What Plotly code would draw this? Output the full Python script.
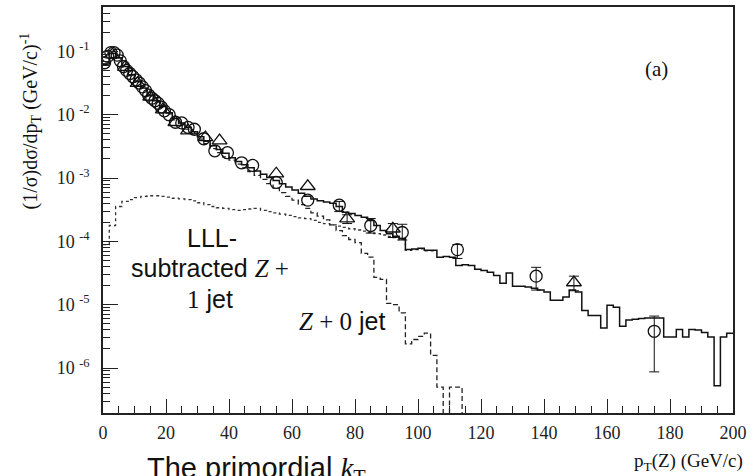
import plotly.graph_objects as go

# ---------------- data ----------------
bin_width = 2.0  # GeV/c, histogram bin width

# total prediction (solid), per 2 GeV bin from 0 to 200
total_hist = [
    6.31e-2, 9.33e-2, 7.94e-2, 5.75e-2, 4.27e-2, 3.39e-2, 2.63e-2, 2.04e-2, 1.66e-2, 1.35e-2,
    1.07e-2, 8.71e-3, 7.41e-3, 6.31e-3, 5.37e-3, 4.47e-3, 3.80e-3, 3.24e-3, 2.82e-3, 2.45e-3,
    2.09e-3, 1.82e-3, 1.62e-3, 1.45e-3, 1.29e-3, 1.15e-3, 1.02e-3, 9.12e-4, 8.13e-4, 7.24e-4,
    6.46e-4, 5.75e-4, 5.13e-4, 4.68e-4, 4.37e-4, 4.17e-4, 3.98e-4, 3.55e-4, 2.88e-4, 2.75e-4,
    2.57e-4, 2.40e-4, 2.14e-4, 1.78e-4, 1.48e-4, 1.32e-4, 1.20e-4, 1.10e-4, 7.41e-5, 7.59e-5,
    7.76e-5, 7.24e-5, 7.24e-5, 5.62e-5, 5.75e-5, 5.62e-5, 4.17e-5, 4.27e-5, 4.17e-5, 3.63e-5,
    3.47e-5, 3.24e-5, 2.88e-5, 2.19e-5, 3.16e-5, 1.95e-5, 1.95e-5, 1.91e-5, 1.82e-5, 1.70e-5,
    1.58e-5, 1.17e-5, 1.17e-5, 1.32e-5, 1.70e-5, 1.58e-5, 8.13e-6, 6.76e-6, 6.76e-6, 4.27e-6,
    9.77e-6, 9.12e-6, 4.57e-6, 5.75e-6, 5.89e-6, 6.03e-6, 6.17e-6, 6.17e-6, 6.17e-6, 3.09e-6,
    3.09e-6, 4.07e-6, 3.09e-6, 4.07e-6, 3.98e-6, 3.63e-6, 3.09e-6, 5.25e-7, 3.09e-6, 3.55e-6,
]

# Z + 0 jet (dashed), per 2 GeV bin; 0 = empty bin
z0jet_hist = [
    6.25e-2, 9.25e-2, 7.85e-2, 5.68e-2, 4.20e-2, 3.33e-2, 2.57e-2, 1.99e-2, 1.61e-2, 1.30e-2,
    1.03e-2, 8.30e-3, 7.00e-3, 5.90e-3, 5.00e-3, 4.10e-3, 3.48e-3, 2.92e-3, 2.52e-3, 2.16e-3,
    1.91e-3, 1.66e-3, 1.45e-3, 1.26e-3, 1.10e-3, 9.55e-4, 8.13e-4, 6.92e-4, 5.89e-4, 5.13e-4,
    4.47e-4, 3.80e-4, 3.31e-4, 2.82e-4, 2.51e-4, 2.19e-4, 1.82e-4, 1.48e-4, 1.23e-4, 1.07e-4,
    9.55e-5, 6.46e-5, 5.62e-5, 2.69e-5, 2.51e-5, 1.05e-5, 1.00e-5, 7.41e-6, 2.40e-6, 2.82e-6,
    3.16e-6, 3.55e-6, 1.58e-6, 5.01e-7, 0.0, 5.01e-7, 5.01e-7, 0.0,
]

# LLL-subtracted Z + 1 jet (dotted), per 2 GeV bin (hidden under the solid beyond ~96 GeV)
z1jet_hist = [
    8.91e-5, 1.78e-4, 3.55e-4, 4.27e-4, 4.57e-4, 4.90e-4, 5.13e-4, 5.25e-4, 5.25e-4, 5.13e-4,
    5.01e-4, 4.79e-4, 4.68e-4, 4.57e-4, 4.37e-4, 4.07e-4, 3.80e-4, 3.55e-4, 3.39e-4, 3.31e-4,
    3.16e-4, 3.09e-4, 3.16e-4, 3.24e-4, 3.31e-4, 3.09e-4, 2.95e-4, 2.82e-4, 2.69e-4, 2.57e-4,
    2.45e-4, 2.34e-4, 2.29e-4, 2.14e-4, 2.00e-4, 1.91e-4, 1.82e-4, 1.74e-4, 1.66e-4, 1.58e-4,
    1.51e-4, 1.45e-4, 1.38e-4, 1.32e-4, 1.26e-4, 1.20e-4, 1.15e-4, 1.07e-4, 7.24e-5, 7.41e-5,
    7.59e-5, 7.08e-5, 7.08e-5,
]

# data set 1 (open circles)
circ_pt = [0.5, 1.5, 2.5, 3.5, 4.5, 5.5, 6.5, 7.5, 8.5, 9.5, 10.5, 11.5, 12.5, 13.5, 14.5,
           15.5, 16.5, 17.5, 18.5, 19.5, 21, 23, 25, 27, 29, 32, 35.5, 39.5, 44, 47.5,
           55, 65, 75, 85, 95, 112.5, 137.5, 175]
circ_val = [6.61e-2, 8.32e-2, 9.55e-2, 9.55e-2, 8.71e-2, 7.08e-2, 5.75e-2, 5.01e-2, 4.47e-2,
            3.98e-2, 3.55e-2, 3.16e-2, 2.75e-2, 2.40e-2, 2.04e-2, 1.82e-2, 1.66e-2, 1.51e-2,
            1.32e-2, 1.15e-2, 1.00e-2, 7.59e-3, 7.41e-3, 6.31e-3, 5.89e-3, 4.17e-3, 2.69e-3,
            2.51e-3, 1.74e-3, 1.58e-3, 8.51e-4, 4.47e-4, 3.72e-4, 1.78e-4, 1.38e-4, 7.41e-5,
            2.82e-5, 3.80e-6]
circ_err_up = [0] * 32 + [5.5e-5, 5.1e-5, 4.8e-5, 1.5e-5, 1.07e-5, 2.81e-6]
circ_err_dn = [0] * 32 + [7.7e-5, 4.3e-5, 3.3e-5, 2.04e-5, 1.12e-5, 2.93e-6]

# data set 2 (open triangles)
tri_pt = [3, 7, 11, 15, 19, 23, 27, 32.5, 37, 55, 65, 77.5, 92, 149.5]
tri_val = [8.91e-2, 5.62e-2, 3.16e-2, 1.91e-2, 1.20e-2, 7.59e-3, 5.62e-3, 4.37e-3, 3.89e-3,
           1.17e-3, 7.41e-4, 2.29e-4, 1.58e-4, 2.24e-5]
tri_err_up = [0] * 11 + [3.4e-5, 3.3e-5, 5.8e-6]
tri_err_dn = [0] * 11 + [3.8e-5, 4.3e-5, 5.8e-6]

x_major = [0, 20, 40, 60, 80, 100, 120, 140, 160, 180, 200]
y_decades = [-6, -5, -4, -3, -2, -1]

# ---------------- helpers ----------------
FLOOR = 1e-12  # plotted in place of an empty bin (off the log axis)


def step_xy(vals):
    xs = [i * bin_width for i in range(len(vals) + 1)]
    ys = [v if v > 0 else FLOOR for v in vals]
    ys = ys + [ys[-1]]
    return xs, ys


def split_err(xs, ys, up, dn):
    a = [(x, y) for x, y, u in zip(xs, ys, up) if u == 0]
    b = [(x, y, u, d) for x, y, u, d in zip(xs, ys, up, dn) if u != 0]
    return a, b


INK = "#111111"
SERIF = "Liberation Serif, Times New Roman, serif"
SANS = "Liberation Sans, Arial, sans-serif"

fig = go.Figure()

# dotted: Z + 1 jet
xs, ys = step_xy(z1jet_hist)
fig.add_trace(go.Scatter(x=xs, y=ys, mode="lines", line=dict(shape="hv", color="#333333", width=1.3, dash="dot"),
                         hoverinfo="skip", showlegend=False))
# dashed: Z + 0 jet
xs, ys = step_xy(z0jet_hist)
fig.add_trace(go.Scatter(x=xs, y=ys, mode="lines", line=dict(shape="hv", color="#222222", width=1.3, dash="5px,3px"),
                         hoverinfo="skip", showlegend=False))
# solid: total
xs, ys = step_xy(total_hist)
fig.add_trace(go.Scatter(x=xs, y=ys, mode="lines", line=dict(shape="hv", color=INK, width=1.5),
                         hoverinfo="skip", showlegend=False))

# markers
for pts, vals, up, dn, sym, size in [
    (circ_pt, circ_val, circ_err_up, circ_err_dn, "circle-open", 12),
    (tri_pt, tri_val, tri_err_up, tri_err_dn, "triangle-up-open", 13),
]:
    a, b = split_err(pts, vals, up, dn)
    fig.add_trace(go.Scatter(x=[p[0] for p in a], y=[p[1] for p in a], mode="markers",
                             marker=dict(symbol=sym, size=size, color=INK, line=dict(width=1.3, color=INK)),
                             showlegend=False))
    fig.add_trace(go.Scatter(x=[p[0] for p in b], y=[p[1] for p in b], mode="markers",
                             marker=dict(symbol=sym, size=size, color=INK, line=dict(width=1.3, color=INK)),
                             error_y=dict(type="data", symmetric=False, array=[p[2] for p in b],
                                          arrayminus=[p[3] for p in b], color=INK, thickness=1, width=5),
                             showlegend=False))

# minor log ticks
minor_vals = []
for d in range(-7, 0):
    for m in range(2, 10):
        minor_vals.append(m * 10.0 ** d)

fig.update_xaxes(
    range=[0, 200], showgrid=False, zeroline=False,
    showline=True, linewidth=1.5, linecolor="#222222", mirror=True,
    ticks="inside", ticklen=14, tickwidth=1.2, tickcolor="#222222",
    tickvals=x_major, ticktext=[str(v) for v in x_major],
    minor=dict(ticks="inside", ticklen=7, tickwidth=1.1, tickcolor="#222222", dtick=5, showgrid=False),
    tickfont=dict(family=SERIF, size=18, color="#222222"),
    ticklabelstandoff=3,
)
fig.update_yaxes(
    type="log", range=[-6.71, -0.30], showgrid=False, zeroline=False,
    showline=True, linewidth=1.5, linecolor="#222222", mirror=True,
    ticks="inside", ticklen=15, tickwidth=1.2, tickcolor="#222222",
    tickvals=[10.0 ** d for d in y_decades],
    ticktext=["10&nbsp;<sup>%d</sup>" % d for d in y_decades],
    minor=dict(ticks="inside", ticklen=7, tickwidth=1.1, tickcolor="#222222", tickvals=minor_vals, showgrid=False),
    tickfont=dict(family=SERIF, size=18, color="#222222"),
    ticklabelstandoff=8,
)

L, R, T, B = 103, 19, 5, 63
W, H = 752, 476
pw, ph = W - L - R, H - T - B


def px(xp):
    return (xp - L) / pw


def py(yp):
    return (H - B - yp) / ph


ann = []
ann.append(dict(text="(1/σ)dσ/dp<sub>T</sub> (GeV/c)<sup>-1</sup>", x=px(31), y=py(120), textangle=-90,
                font=dict(family=SERIF, size=20, color=INK)))
ann.append(dict(text="(a)", x=px(656), y=py(67), font=dict(family=SERIF, size=21, color=INK)))
ann.append(dict(text="LLL-", x=px(212), y=py(237), font=dict(family=SANS, size=25, color=INK)))
ann.append(dict(text='subtracted <span style="font-family:Liberation Serif"><i>Z</i> +</span>',
                x=px(210), y=py(267), font=dict(family=SANS, size=25, color=INK)))
ann.append(dict(text='<span style="font-family:Liberation Serif">1</span> jet',
                x=px(210), y=py(298), font=dict(family=SANS, size=25, color=INK)))
ann.append(dict(text='<span style="font-family:Liberation Serif"><i>Z</i> + 0</span> jet',
                x=px(342), y=py(321), font=dict(family=SANS, size=25, color=INK)))
ann.append(dict(text='The primordial <span style="font-family:Liberation Serif"><i>k</i><sub>T</sub></span>',
                x=px(145), xanchor="left", y=py(470), font=dict(family=SANS, size=29, color=INK)))
ann.append(dict(text="p<sub>T</sub>(Z) (GeV/c)", x=px(745), xanchor="right", y=py(462),
                font=dict(family=SERIF, size=19, color=INK)))
for a in ann:
    a.setdefault("xanchor", "center")
    a.update(xref="paper", yref="paper", yanchor="middle", showarrow=False)

fig.update_layout(
    width=W, height=H, margin=dict(l=L, r=R, t=T, b=B),
    paper_bgcolor="white", plot_bgcolor="white",
    annotations=ann, showlegend=False,
)

fig.write_html("out.html")
